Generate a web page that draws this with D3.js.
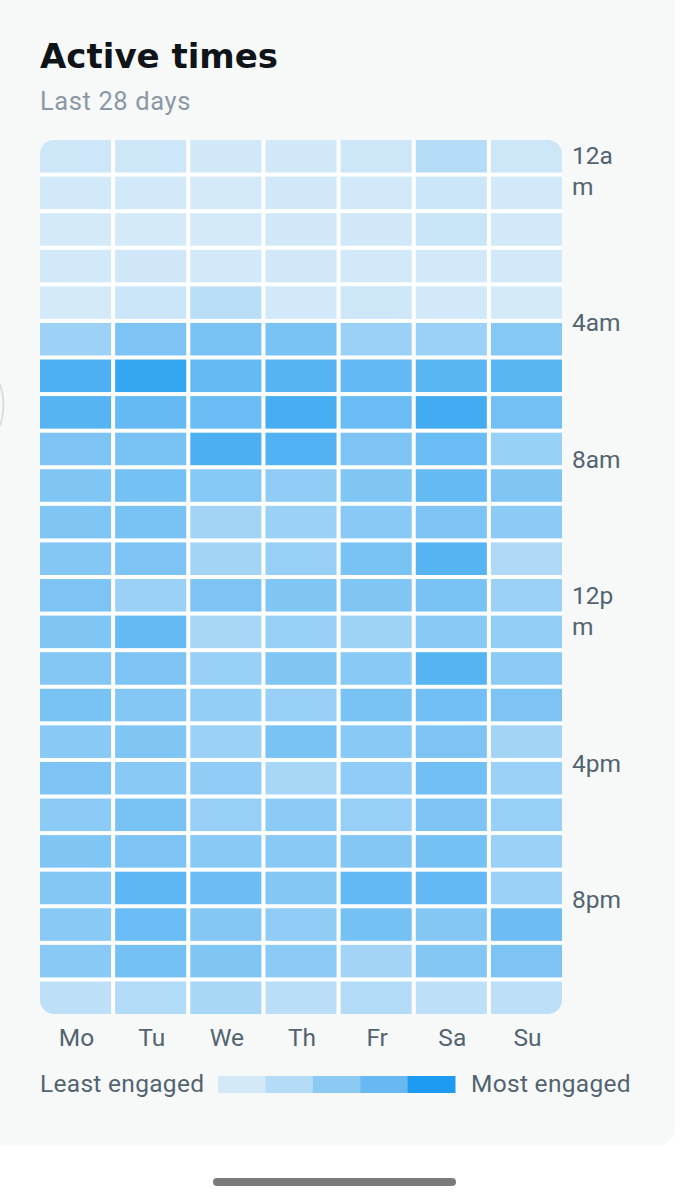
<!DOCTYPE html>
<html><head><meta charset="utf-8">
<script src="https://cdn.jsdelivr.net/npm/d3@7"></script>
<style>html,body{margin:0;padding:0;background:#fff;} svg{display:block}</style>
</head><body>
<svg id="c" width="700" height="1200"></svg>
<script>
// ---- data ----
const days = ["Mo","Tu","We","Th","Fr","Sa","Su"];
const hourKeys = [0,1,2,3,4,5,6,7,8,9,10,11,12,13,14,15,16,17,18,19,20,21,22,23];
const hourTickLabels = ["12am","4am","8am","12pm","4pm","8pm"];
// engagement (0-100) per hour, 12am .. 11pm
const mo = [8,5,4,5,4,33,75,70,50,48,48,46,50,48,46,52,44,50,42,48,46,44,44,16];
const tu = [8,5,4,7,9,50,88,62,52,54,52,50,34,62,50,46,48,44,52,50,66,60,54,22];
const we = [6,4,4,5,18,52,62,60,76,45,30,30,50,28,36,38,34,40,36,44,58,46,48,28];
const th = [6,6,6,6,5,52,70,78,72,40,34,36,48,36,48,36,52,28,42,44,46,40,42,18];
const fr = [8,5,6,5,8,34,64,60,50,48,44,52,48,32,44,52,44,40,36,46,64,54,30,22];
const sa = [20,9,10,5,5,34,68,80,60,62,50,70,52,44,70,56,50,56,50,54,64,46,46,16];
const su = [8,5,5,5,4,45,68,55,35,48,42,24,34,38,42,50,30,34,36,34,34,58,50,16];
const seriesByDay = [mo,tu,we,th,fr,sa,su];
const legendLevels = [0,1,2,3,4];
const legendColors = ["#d4e9f8","#b5dcf6","#8ccaf3","#68b9f2","#1d9bf0"];

// ---- drawing ----
const svg = d3.select("#c");
const FONT = "Roboto, 'Noto Sans', sans-serif";

// card
svg.append("rect").attr("x",-30).attr("y",-30).attr("width",705).attr("height",1175)
  .attr("rx",16).attr("fill","#f7f9f9");
// left edge artifact
svg.append("path").attr("d","M0,384 Q7,405 0,426").attr("fill","none")
  .attr("stroke","#dcdcdc").attr("stroke-width",2);
// home indicator
svg.append("rect").attr("x",213).attr("y",1178).attr("width",243).attr("height",8)
  .attr("rx",4).attr("fill","#7a7a7a");

// title
svg.append("text").attr("x",40).attr("y",68).text("Active times")
  .attr("font-family","'DejaVu Sans', sans-serif").attr("font-weight",700)
  .attr("font-size",34).attr("fill","#0f1419");
svg.append("text").attr("x",40).attr("y",110).text("Last 28 days")
  .attr("font-family",FONT).attr("font-size",25.5).attr("letter-spacing",0.6).attr("fill","#8b98a5");

// scales
const x = d3.scaleBand().domain(days).range([40,562]).paddingInner(0.054).paddingOuter(0);
const y = d3.scaleBand().domain(hourKeys).range([140,1014]).paddingInner(0.11).paddingOuter(0);
const color = d3.scaleLinear().domain([0,100]).range(["#dcedf9","#1d9bf0"]).interpolate(d3.interpolateRgb);

const defs = svg.append("defs");
defs.append("clipPath").attr("id","gridclip").append("rect")
  .attr("x",40).attr("y",140).attr("width",522).attr("height",874).attr("rx",14);

const grid = svg.append("g").attr("clip-path","url(#gridclip)");
grid.append("rect").attr("x",40).attr("y",140).attr("width",522).attr("height",874).attr("fill","#ffffff");

const cells = [];
days.forEach((d,i)=>{ seriesByDay[i].forEach((v,h)=>cells.push({day:d,hour:hourKeys[h],v})); });
grid.selectAll("rect.cell").data(cells).join("rect").attr("class","cell")
  .attr("x",d=>x(d.day)).attr("y",d=>y(d.hour))
  .attr("width",x.bandwidth()).attr("height",y.bandwidth())
  .attr("fill",d=>color(d.v));

// day labels
svg.append("g").selectAll("text").data(days).join("text")
  .attr("x",d=>x(d)+x.bandwidth()/2 + 1).attr("y",1046).attr("text-anchor","middle")
  .attr("font-family",FONT).attr("font-size",24.5).attr("fill","#536471").text(d=>d);

// hour labels: stacked column with wrapping (narrow column)
const labG = svg.append("g");
const maxW = 54, lineH = 31, gap = 105.5;
function wrap(label){
  const t = labG.append("text").attr("font-family",FONT).attr("font-size",24.5);
  const lines=[]; let cur="";
  for(const ch of label){
    t.text(cur+ch);
    if(t.node().getComputedTextLength()>maxW && cur.length){ lines.push(cur); cur=ch; }
    else cur+=ch;
  }
  lines.push(cur); t.remove(); return lines;
}
let labTop = y(hourKeys[0]) - 0.5;
hourTickLabels.forEach(lab=>{
  const lines = wrap(lab);
  lines.forEach((ln,k)=>{
    labG.append("text").attr("x",572).attr("y",labTop + k*lineH + 24)
      .attr("font-family",FONT).attr("font-size",24.5).attr("fill","#536471").text(ln);
  });
  labTop += lines.length*lineH + gap;
});

// legend
const lx = d3.scaleBand().domain(legendLevels).range([218,455]).padding(0);
svg.append("g").selectAll("rect").data(legendLevels).join("rect")
  .attr("x",d=>lx(d)).attr("y",1076).attr("width",lx.bandwidth()+0.5).attr("height",17)
  .attr("fill",d=>legendColors[d]);
svg.append("text").attr("x",40).attr("y",1092).text("Least engaged")
  .attr("font-family",FONT).attr("font-size",24.5).attr("letter-spacing",0.3).attr("fill","#536471");
svg.append("text").attr("x",471).attr("y",1092).text("Most engaged")
  .attr("font-family",FONT).attr("font-size",24.5).attr("letter-spacing",0.3).attr("fill","#536471");
</script>
</body></html>
